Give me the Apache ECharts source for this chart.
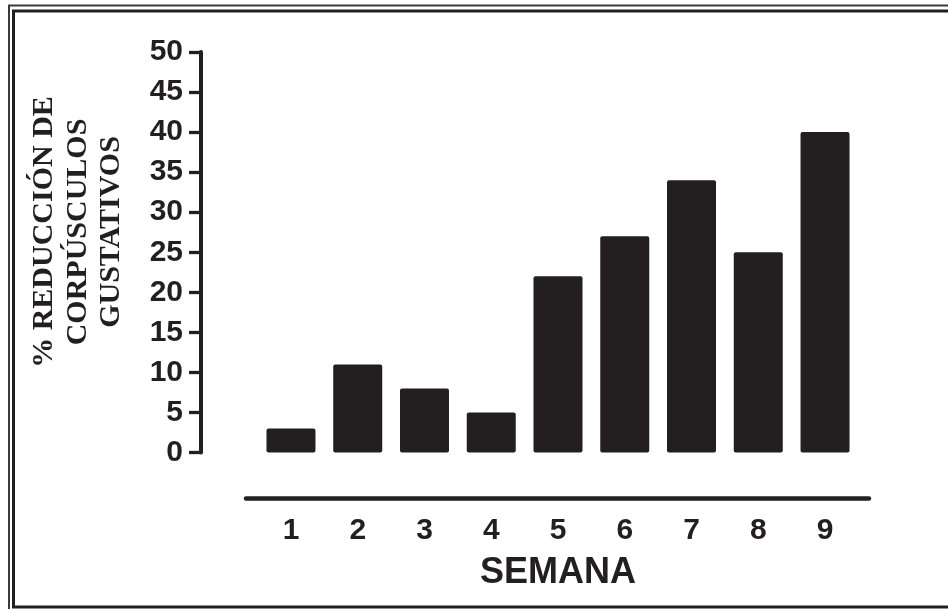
<!DOCTYPE html>
<html>
<head>
<meta charset="utf-8">
<script src="https://cdn.jsdelivr.net/npm/echarts@6/dist/echarts.min.js"></script>
<style>
html,body{margin:0;padding:0;background:#fff;}
#chart{width:948px;height:609px;}
</style>
</head>
<body>
<div id="chart"></div>
<script>
var categories = ['1','2','3','4','5','6','7','8','9'];
var values = [3, 11, 8, 5, 22, 27, 34, 25, 40];
var yTitle = '% REDUCCIÓN DE\nCORPÚSCULOS\nGUSTATIVOS';
var xTitle = 'SEMANA';

var ink = '#231f20';
var sans = '"Liberation Sans", Arial, sans-serif';
var serif = '"Liberation Serif", "Times New Roman", serif';

var chart = echarts.init(document.getElementById('chart'), null, {renderer:'canvas'});
chart.setOption({
  animation: false,
  backgroundColor: '#ffffff',
  grid: [
    {left: 257.6, right: 89.6, top: 52, bottom: 156.5, containLabel: false},
    {left: 246, right: 79, top: 100, bottom: 111, containLabel: false}
  ],
  xAxis: [
    {
      type: 'category', gridIndex: 0, data: categories,
      axisLine: {show: false}, axisTick: {show: false},
      axisLabel: {fontSize: 30, fontWeight: 'bold', fontFamily: sans, color: ink, margin: 63},
      name: xTitle, nameLocation: 'middle', nameGap: 103,
      nameTextStyle: {fontSize: 36, fontWeight: 'bold', fontFamily: sans, color: ink}
    },
    {
      type: 'value', gridIndex: 1, min: 0, max: 1,
      axisLine: {show: true, lineStyle: {color: ink, width: 4.5}},
      axisTick: {show: false}, axisLabel: {show: false}, splitLine: {show: false}
    }
  ],
  yAxis: [
    {
      type: 'value', gridIndex: 0, min: 0, max: 50, interval: 5, offset: 56.6,
      axisLine: {show: true, lineStyle: {color: ink, width: 4}},
      axisTick: {show: true, length: 12, lineStyle: {color: ink, width: 3.3}},
      axisLabel: {fontSize: 30, fontWeight: 'bold', fontFamily: sans, color: ink, margin: 18},
      splitLine: {show: false}
    },
    {
      type: 'value', gridIndex: 1, show: false
    }
  ],
  graphic: [
    {type: 'rect', shape: {x: 9, y: 5.5, width: 960, height: 620}, style: {fill: 'none', stroke: '#3a3a3a', lineWidth: 2}, silent: true},
    {type: 'rect', shape: {x: 13.5, y: 11, width: 960, height: 596}, style: {fill: 'none', stroke: ink, lineWidth: 3}, silent: true},
    {type: 'text', x: 78, y: 232, rotation: Math.PI / 2,
     style: {text: yTitle, font: 'bold 30px ' + serif, fill: ink, textAlign: 'center', textVerticalAlign: 'middle', lineHeight: 33.5}}
  ],
  series: [
    {
      type: 'bar', xAxisIndex: 0, yAxisIndex: 0, data: values, barWidth: 49,
      itemStyle: {color: ink, borderRadius: 2}
    }
  ]
});
</script>
</body>
</html>
